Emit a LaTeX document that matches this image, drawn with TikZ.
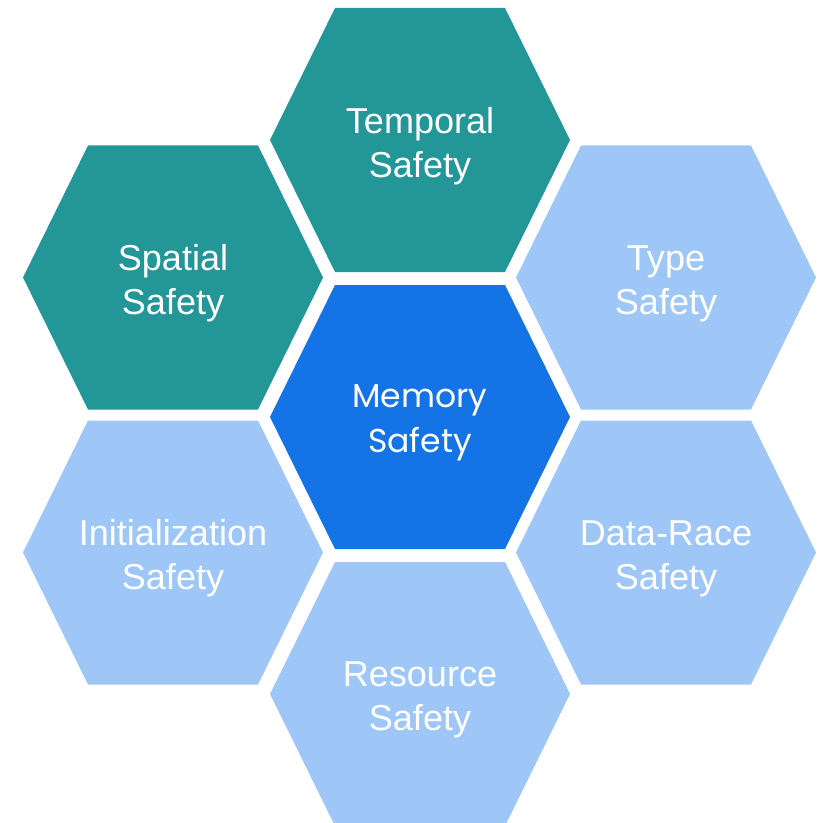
\documentclass[tikz,border=0pt]{standalone}
\usepackage{fontspec}
\setmainfont{Liberation Sans}
\newfontfamily\memfont{Poppins}

\begin{document}
\begin{tikzpicture}
    \definecolor{teal1}{RGB}{35, 150, 152}
    \definecolor{blue1}{RGB}{20, 116, 230}
    \definecolor{blue2}{RGB}{158, 199, 247}

    \tikzset{hexlabel/.style={text=white,align=center,yshift=-0.06cm,font=\fontsize{10.25}{12.6}\selectfont}}

    \clip (0,0) rectangle (8.26,8.22);

    \fill [blue1,shift={(4.20,4.05)}] (-1.5,0) -- (-0.85,1.32) -- (0.85,1.32) -- (1.5,0) -- (0.85,-1.32) -- (-0.85,-1.32) -- cycle;

    \fill [teal1,shift={(4.20,6.82)}] (-1.5,0) -- (-0.85,1.32) -- (0.85,1.32) -- (1.5,0) -- (0.85,-1.32) -- (-0.85,-1.32) -- cycle;
    \fill [teal1,shift={(1.73,5.445)}] (-1.5,0) -- (-0.85,1.32) -- (0.85,1.32) -- (1.5,0) -- (0.85,-1.32) -- (-0.85,-1.32) -- cycle;
    \fill [blue2,shift={(6.66,5.445)}] (-1.5,0) -- (-0.85,1.32) -- (0.85,1.32) -- (1.5,0) -- (0.85,-1.32) -- (-0.85,-1.32) -- cycle;
    \fill [blue2,shift={(1.73,2.695)}] (-1.5,0) -- (-0.85,1.32) -- (0.85,1.32) -- (1.5,0) -- (0.85,-1.32) -- (-0.85,-1.32) -- cycle;
    \fill [blue2,shift={(6.66,2.695)}] (-1.5,0) -- (-0.85,1.32) -- (0.85,1.32) -- (1.5,0) -- (0.85,-1.32) -- (-0.85,-1.32) -- cycle;
    \fill [blue2,shift={(4.20,1.28)}] (-1.5,0) -- (-0.85,1.32) -- (0.85,1.32) -- (1.5,0) -- (0.85,-1.32) -- (-0.85,-1.32) -- cycle;

    \node [hexlabel,font=\memfont\fontsize{9.4}{12.8}\selectfont] (memory) at (4.20,4.05) {Memory\\Safety};

    \node [hexlabel] (temporal) at (4.20,6.82) {Temporal\\Safety};
    \node [hexlabel] (spatial) at (1.73,5.445) {Spatial\\Safety};
    \node [hexlabel] (type) at (6.66,5.445) {Type\\Safety};
    \node [hexlabel] (init) at (1.73,2.695) {Initialization\\Safety};
    \node [hexlabel] (datarace) at (6.66,2.695) {Data-Race\\Safety};
    \node [hexlabel] (resource) at (4.20,1.28) {Resource\\Safety};
  \end{tikzpicture}
\end{document}
